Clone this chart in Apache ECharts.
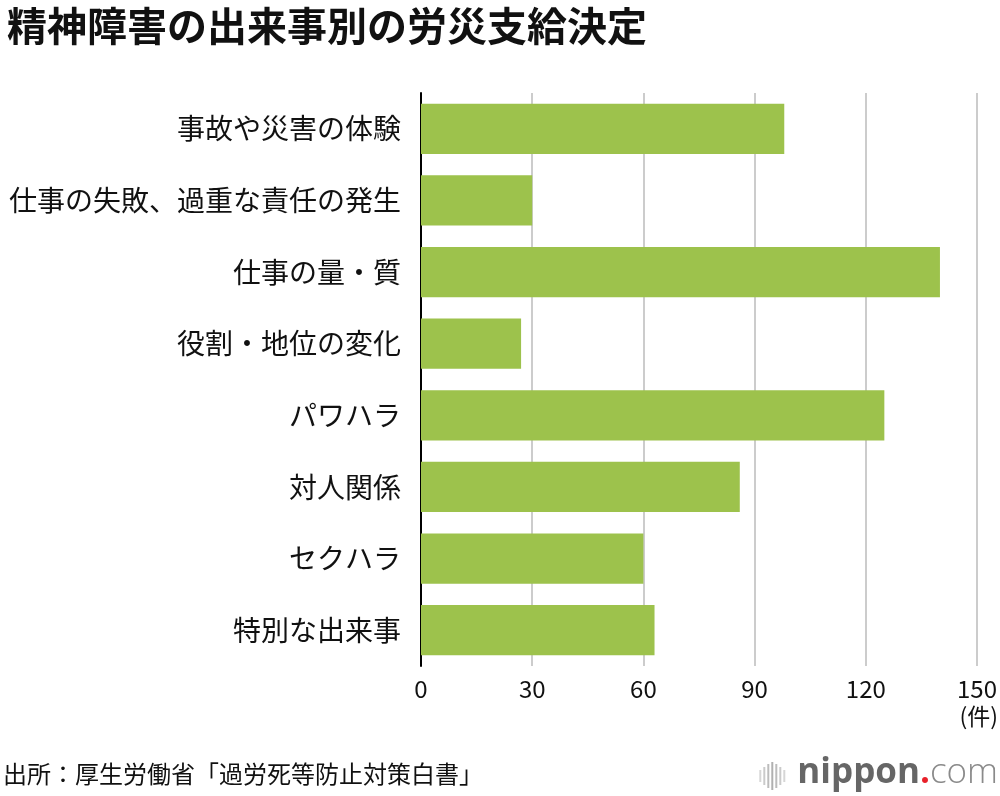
<!DOCTYPE html>
<html><head><meta charset="utf-8">
<script src="https://cdn.jsdelivr.net/npm/echarts@6/dist/echarts.min.js"></script>
<style>html,body{margin:0;padding:0;background:#fff}#c{width:1000px;height:796px}</style>
</head><body><div id="c"></div>
<script>
const categories = ['事故や災害の体験','仕事の失敗、過重な責任の発生','仕事の量・質','役割・地位の変化','パワハラ','対人関係','セクハラ','特別な出来事'];
const values = [98, 30, 140, 27, 125, 86, 60, 63];
const xTicks = [0, 30, 60, 90, 120, 150];
const titleText = '精神障害の出来事別の労災支給決定';
const sourceText = '出所：厚生労働省「過労死等防止対策白書」';
const unitText = '(件)';

const FONT = '"Noto Sans CJK JP", "Noto Sans", sans-serif';
const LOGO = '"Open Sans", "Noto Sans", sans-serif';
const iconBars = [
  { x: 0, h: 12, c: '#d6d6d6' }, { x: 4, h: 18, c: '#cacaca' }, { x: 8, h: 24, c: '#bcbcbc' },
  { x: 12, h: 28, c: '#b0b0b0' }, { x: 16, h: 24, c: '#bcbcbc' }, { x: 20, h: 18, c: '#cacaca' },
  { x: 24, h: 12, c: '#d6d6d6' }
];
const chart = echarts.init(document.getElementById('c'));
chart.setOption({
  backgroundColor: '#fff',
  animation: false,
  title: {
    text: titleText, left: 2, top: 1,
    textStyle: { fontFamily: FONT, fontSize: 40, fontWeight: 'bold', color: '#111' }
  },
  grid: { left: 421, top: 93, width: 559, height: 573, containLabel: false },
  xAxis: {
    type: 'value', min: xTicks[0], max: xTicks[xTicks.length - 1], interval: 30,
    axisLine: { show: false }, axisTick: { show: false },
    splitLine: { show: true, lineStyle: { color: '#cccccc', width: 2 } },
    axisLabel: { margin: 11, fontFamily: FONT, fontSize: 24, color: '#111',
      formatter: v => xTicks.includes(v) ? String(v) : '' }
  },
  yAxis: {
    type: 'category', data: categories, inverse: true,
    axisLine: { show: true, lineStyle: { color: '#000', width: 2 } },
    axisTick: { show: false },
    axisLabel: { margin: 20, fontFamily: FONT, fontSize: 28, color: '#111' }
  },
  series: [{
    type: 'bar', data: values, barCategoryGap: '30%',
    itemStyle: { color: '#9dc24c' }
  }],
  graphic: [
    { type: 'text', right: 2, top: 705, style: { text: unitText, font: '23px ' + FONT, fill: '#111' } },
    { type: 'text', left: 3, top: 762, style: { text: sourceText, font: '24px ' + FONT, fill: '#111' } },
    { type: 'group', right: 2, top: 756, children: [
      ...iconBars.map(b => ({ type: 'rect', shape: { x: b.x, y: 20 - b.h / 2, width: 2, height: b.h }, style: { fill: b.c } })),
      { type: 'text', x: 38, y: 0, style: {
        text: '{a|nippon}{b|.}{c|com}',
        rich: {
          a: { fontFamily: LOGO, fontSize: 35, fontWeight: 'bold', fill: '#666' },
          b: { fontFamily: LOGO, fontSize: 35, fontWeight: 'bold', fill: '#e8202a' },
          c: { fontFamily: LOGO, fontSize: 35, fontWeight: 300, fill: '#8a8a8a' }
        }
      } }
    ] }
  ]
});
</script></body></html>
